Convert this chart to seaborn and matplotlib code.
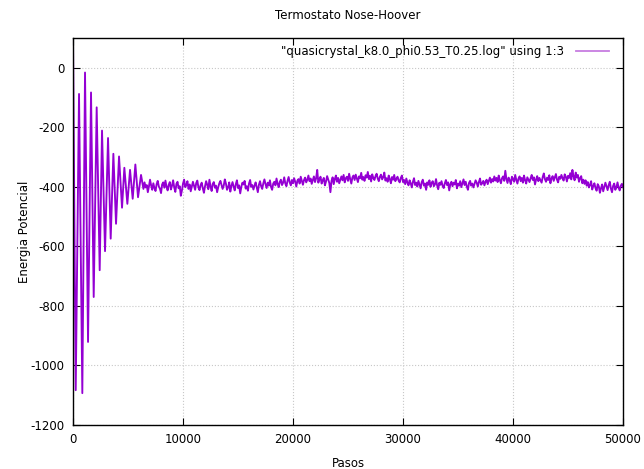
import numpy as np
import pandas as pd
import seaborn as sns
import matplotlib
matplotlib.use('Agg')
import matplotlib.pyplot as plt

# puntos de giro de la oscilacion inicial (pasos, energia)
pasos_osc = [0, 245, 545, 845, 1090, 1364, 1636, 1879, 2150, 2424, 2636, 2909,
             3182, 3424, 3667, 3909, 4182, 4454, 4666, 4939, 5182, 5424, 5666,
             5909, 6182, 6400]
energia_osc = [90, -1083, -88, -1093, -16, -921, -83, -770, -133, -680, -211, -616,
               -236, -574, -289, -524, -298, -470, -336, -457, -343, -440, -325,
               -435, -360, -407]

# parte estable, leida cada 100 pasos desde 6500 hasta 50000
energia_eq = [
    -385, -402, -394, -418, -399, -376, -395, -410, -388, -404,
    -414, -391, -380, -399, -406, -421, -392, -385, -403, -379,
    -400, -412, -393, -384, -409, -396, -378, -402, -417, -390,
    -383, -405, -398, -430, -412, -389, -376, -401, -394, -381,
    -407, -392, -415, -399, -383, -396, -410, -387, -379, -402,
    -411, -394, -386, -405, -420, -398, -381, -393, -408, -376,
    -399, -414, -390, -384, -403, -396, -418, -401, -388, -380,
    -393, -407, -396, -375, -389, -410, -402, -385, -416, -397,
    -384, -399, -412, -391, -378, -404, -395, -422, -400, -386,
    -392, -380, -406, -398, -413, -389, -377, -400, -394, -409,
    -396, -385, -402, -418, -393, -381, -398, -407, -388, -375,
    -391, -404, -386, -396, -378, -400, -410, -389, -383, -395,
    -372, -390, -401, -383, -376, -394, -386, -368, -389, -398,
    -380, -367, -385, -395, -377, -388, -371, -383, -399, -379,
    -374, -389, -366, -380, -393, -377, -369, -385, -376, -362,
    -381, -372, -390, -377, -365, -384, -371, -343, -386, -375,
    -366, -389, -378, -370, -395, -382, -364, -376, -387, -418,
    -380, -368, -391, -374, -362, -383, -370, -388, -376, -365,
    -378, -360, -385, -371, -366, -380, -356, -374, -389, -368,
    -362, -377, -359, -372, -384, -365, -371, -353, -376, -367,
    -380, -361, -369, -350, -374, -363, -382, -358, -370, -377,
    -364, -356, -372, -381, -366, -359, -375, -368, -352, -379,
    -371, -383, -362, -374, -388, -367, -376, -360, -381, -373,
    -366, -379, -385, -370, -362, -384, -377, -391, -372, -386,
    -395, -378, -388, -402, -383, -371, -394, -386, -399, -380,
    -392, -405, -384, -376, -396, -389, -410, -385, -393, -378,
    -400, -387, -381, -398, -392, -374, -395, -408, -386, -393,
    -381, -397, -404, -388, -377, -394, -385, -412, -391, -383,
    -398, -386, -392, -377, -405, -389, -396, -381, -401, -388,
    -375, -394, -383, -399, -410, -387, -380, -396, -389, -402,
    -390, -378, -386, -399, -384, -372, -393, -388, -380, -395,
    -383, -376, -391, -380, -369, -386, -374, -382, -365, -379,
    -370, -384, -362, -377, -388, -371, -365, -380, -346, -374,
    -387, -369, -378, -391, -366, -375, -383, -360, -377, -389,
    -372, -365, -381, -370, -386, -362, -378, -389, -368, -376,
    -384, -371, -360, -377, -368, -392, -375, -364, -381, -370,
    -378, -386, -367, -355, -374, -383, -369, -377, -361, -388,
    -372, -364, -380, -368, -357, -376, -385, -366, -373, -360,
    -371, -379, -358, -366, -382, -363, -370, -354, -375, -343,
    -365, -378, -352, -369, -360, -383, -371, -364, -388, -376,
    -390, -378, -396, -384, -402, -393, -381, -409, -397, -388,
    -404, -413, -391, -398, -420, -405, -392, -415, -401, -386,
    -399, -411, -394, -383, -406, -418, -397, -389, -410, -402,
    -385, -403, -412, -396, -390, -401,
]
pasos_eq = list(range(6500, 50001, 100))

etiqueta = '"quasicrystal_k8.0_phi0.53_T0.25.log" using 1:3'

df = pd.DataFrame({'pasos': pasos_osc + pasos_eq,
                   'energia': energia_osc + energia_eq})

plt.rcParams['font.family'] = ['DejaVu Sans']
plt.rcParams['font.size'] = 8.5
plt.rcParams['axes.unicode_minus'] = False

fig = plt.figure(figsize=(6.44, 4.69), dpi=100)
ax = fig.add_axes([0.1134, 0.0938, 0.854, 0.8252])

sns.lineplot(data=df, x='pasos', y='energia', color='#9400d3', lw=1.35,
             sort=False, estimator=None, label=etiqueta, ax=ax)

ax.set_xlim(0, 50000)
ax.set_ylim(-1200, 100)
ax.set_xticks(range(0, 50001, 10000))
ax.set_yticks(range(-1200, 1, 200))
ax.grid(True, color='#c8c8c8', linestyle=':', linewidth=0.8)
ax.tick_params(direction='in', top=True, right=True, length=5, width=0.8,
               pad=6, labelsize=8.5)
for s in ax.spines.values():
    s.set_linewidth(1.0)
    s.set_color('black')

ax.set_title('Termostato Nose-Hoover', fontsize=8.5, pad=14)
ax.set_xlabel('Pasos', fontsize=8.5, labelpad=8)
ax.set_ylabel('Energia Potencial', fontsize=8.5, labelpad=0)

leg = ax.legend(loc='upper right', frameon=False, markerfirst=False,
                handlelength=2.8, handletextpad=1.0, fontsize=8.5,
                borderaxespad=0.2, bbox_to_anchor=(0.987, 1.0))
for h in leg.get_lines():
    h.set_color('#c77de0')
    h.set_linewidth(1.3)

fig.savefig('out.png', dpi=100)
